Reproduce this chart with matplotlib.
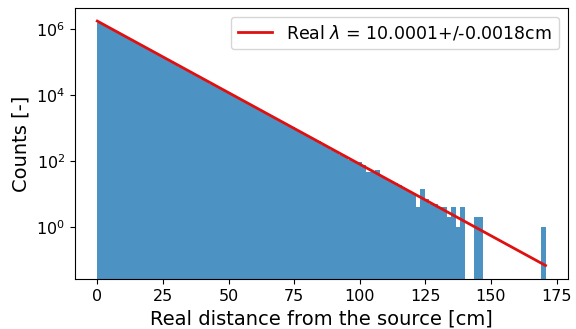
import numpy as np
import matplotlib
matplotlib.use("Agg")
import matplotlib.pyplot as plt

# histogram of reconstructed distances: 100 equal bins between 0 and the largest distance
x_max = 170.8
n_bins = 100
counts = [
    1581200, 1330900, 1123400, 946100, 798500, 672300, 567600, 477800, 403300, 339500,
    286800, 241100, 203900, 171200, 144900, 121600, 102500, 86900, 72800, 61700,
    51800, 43900, 36700, 31200, 26100, 22200, 18550, 15780, 13190, 11210,
    9380, 7960, 6650, 5670, 4730, 4030, 3350, 2870, 2380, 2040,
    1690, 1450, 1200, 1035, 850, 735, 605, 522, 428, 398,
    305, 266, 214, 190, 152, 136, 108, 92, 95, 76,
    47, 45, 53, 33, 28, 23, 21, 19, 14, 12,
    10, 4, 14, 7, 5, 5, 4, 4, 2, 4,
    1, 4, 0, 0, 2, 2, 0, 0, 0, 0,
    0, 0, 0, 0, 0, 0, 0, 0, 0, 1,
]

# exponential fit result
fit_lambda = 10.0001
fit_lambda_err = 0.0018
fit_amplitude = 1.75e6

edges = np.linspace(0, x_max, n_bins + 1)
centers = 0.5 * (edges[:-1] + edges[1:])

fig = plt.figure(figsize=(5.76, 3.29), dpi=100)
ax = fig.add_axes([0.130, 0.152, 0.856, 0.824])

ax.hist(centers, bins=edges, weights=counts, alpha=0.8)

xx = np.linspace(0, x_max, 300)
ax.plot(xx, fit_amplitude * np.exp(-xx / fit_lambda), color="#e01010", lw=2,
        label=r"Real $\lambda$ = %.4f+/-%.4fcm" % (fit_lambda, fit_lambda_err))

ax.set_yscale("log")
ax.set_ylim(0.026, 4.4e6)
ax.set_xlim(-0.05 * x_max, 1.05 * x_max)
ax.set_xticks([0, 25, 50, 75, 100, 125, 150, 175])
ax.set_yticks([1, 1e2, 1e4, 1e6])
ax.minorticks_off()
ax.tick_params(labelsize=11.5)

ax.set_xlabel("Real distance from the source [cm]", fontsize=14)
ax.set_ylabel("Counts [-]", fontsize=14)
ax.legend(loc="upper right", fontsize=12.5)

fig.savefig("out.png", dpi=100)
